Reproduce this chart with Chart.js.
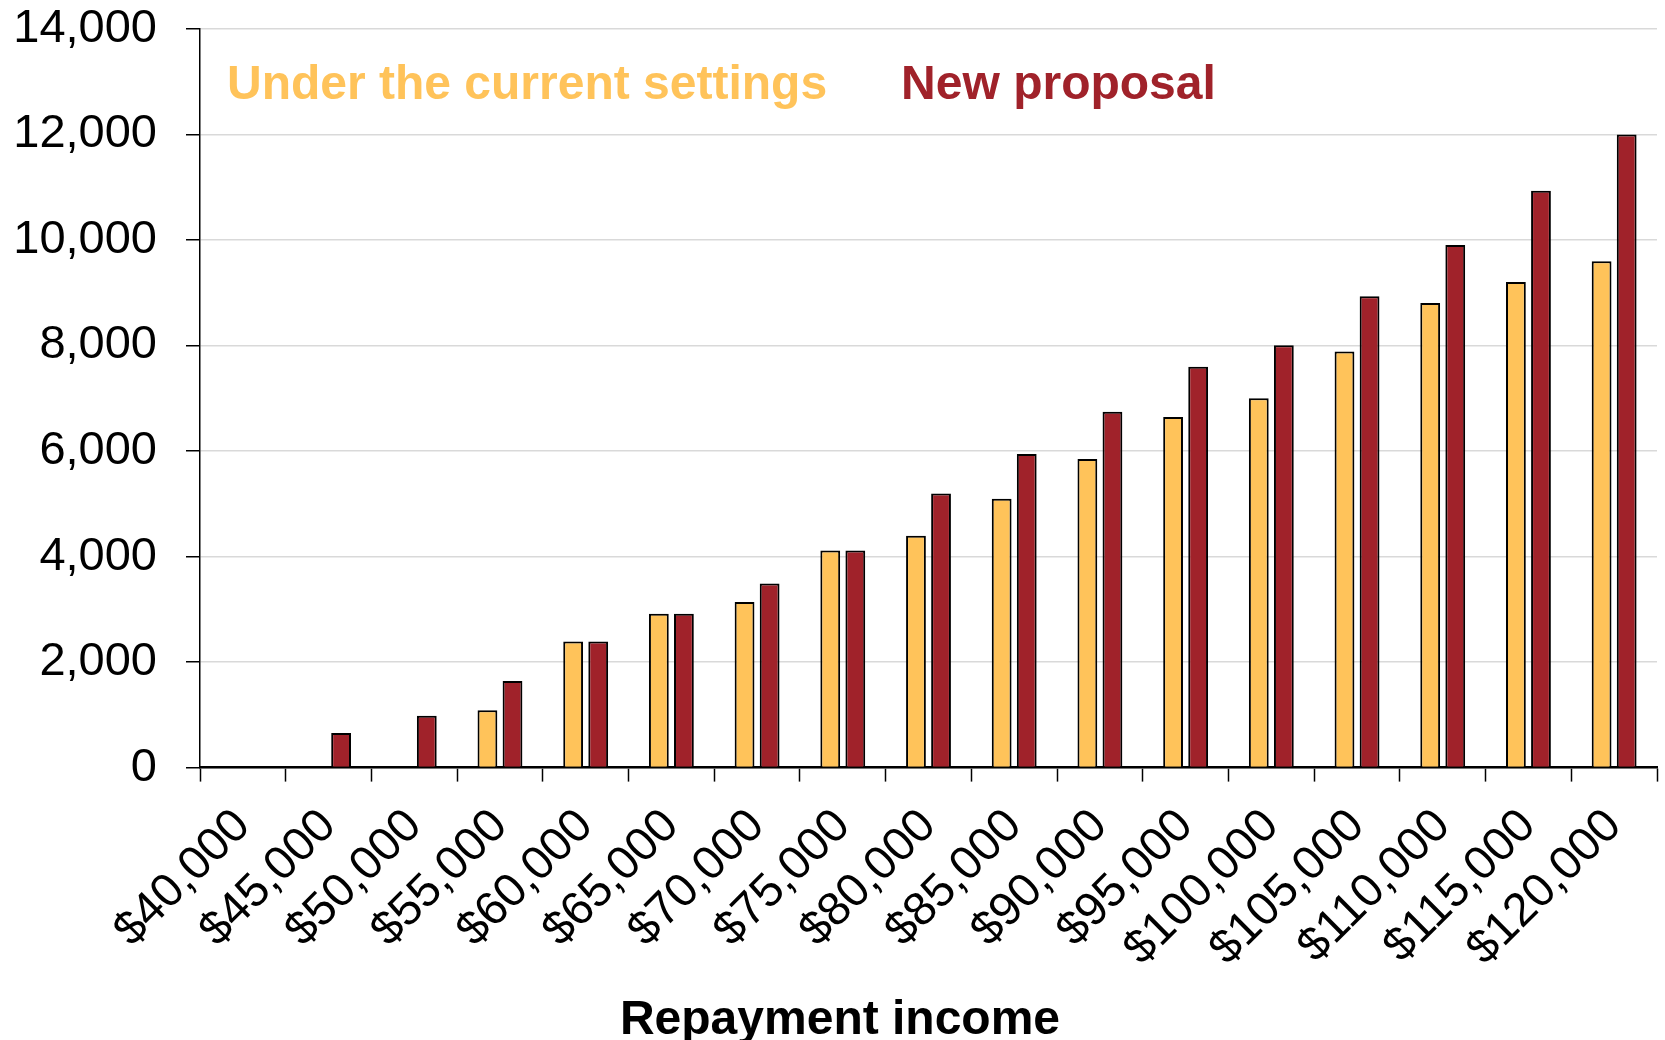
<!DOCTYPE html>
<html>
<head>
<meta charset="utf-8">
<title>Repayment income</title>
<script src="https://cdn.jsdelivr.net/npm/chart.js@4.4.1/dist/chart.umd.min.js"></script>
<style>
  html, body { margin: 0; padding: 0; background: #fff; }
  #wrap { width: 1665px; height: 1040px; }
</style>
</head>
<body>
<div id="wrap"><canvas id="grafico" width="1665" height="1040"></canvas></div>
<script>
// valores
const categorias = ['$40,000', '$45,000', '$50,000', '$55,000', '$60,000', '$65,000', '$70,000', '$75,000', '$80,000',
  '$85,000', '$90,000', '$95,000', '$100,000', '$105,000', '$110,000', '$115,000', '$120,000'];
const actual = [0, 0, 0, 1085, 2390, 2915, 3140, 4115, 4395, 5095, 5850, 6645, 7000, 7885, 8805, 9205, 9600];
const propuesta = [0, 655, 985, 1640, 2390, 2915, 3490, 4115, 5195, 5945, 6745, 7600, 8005, 8935, 9905, 10935, 12000];
const nombres = ['Under the current settings', 'New proposal'];
const colores = ['#FFC35A', '#A0222A'];
const ticksY = [0, 2000, 4000, 6000, 8000, 10000, 12000, 14000];

const FUENTE = '"Liberation Sans", Arial, sans-serif';

// leyenda dibujada dentro del area del grafico, como en el original
const leyendaInterna = {
  id: 'leyendaInterna',
  afterLayout(chart) {
    // el titulo del eje no esta centrado en el lienzo en el original
    const t = chart.titleBlock;
    if (t) { t.left += 6; t.right += 6; }
  },
  afterDraw(chart) {
    const ctx = chart.ctx;
    const area = chart.chartArea;
    ctx.save();
    ctx.font = 'bold 48px ' + FUENTE;
    ctx.textBaseline = 'middle';
    ctx.textAlign = 'left';
    let x = area.left + 27;
    chart.data.datasets.forEach(ds => {
      ctx.fillStyle = ds.backgroundColor;
      ctx.fillText(ds.label, x, 86);
      x += ctx.measureText(ds.label).width + 74;
    });
    ctx.restore();
  }
};

new Chart(document.getElementById('grafico'), {
  type: 'bar',
  data: {
    labels: categorias,
    datasets: [
      { label: nombres[0], data: actual, backgroundColor: colores[0] },
      { label: nombres[1], data: propuesta, backgroundColor: colores[1] }
    ]
  },
  options: {
    responsive: false,
    animation: false,
    layout: { padding: { top: 29, right: 8, bottom: 0, left: 11 } },
    datasets: {
      bar: {
        borderColor: '#000',
        borderWidth: 2,
        borderSkipped: 'start',
        categoryPercentage: 0.585,
        barPercentage: 0.79
      }
    },
    plugins: {
      legend: { display: false },
      tooltip: { enabled: false },
      title: {
        display: true,
        position: 'bottom',
        text: 'Repayment income',
        color: '#000',
        font: { family: FUENTE, size: 48, weight: 'bold', lineHeight: 0.8 },
        padding: { top: 0, bottom: 0 }
      }
    },
    scales: {
      x: {
        offset: true,
        grid: { display: true, offset: true, drawOnChartArea: false, drawTicks: true, tickLength: 14, tickColor: '#000', tickWidth: 1.5 },
        border: { display: true, color: '#000', width: 2.5 },
        ticks: {
          color: '#000',
          font: { family: FUENTE, size: 47 },
          minRotation: 45,
          maxRotation: 45,
          autoSkip: false,
          padding: 17
        },
        afterFit(scale) {
          scale.height = 234;
          scale.paddingLeft = 0;
          scale.paddingRight = 0;
        }
      },
      y: {
        min: 0,
        max: 14000,
        afterBuildTicks(scale) { scale.ticks = ticksY.map(v => ({ value: v })); },
        grid: { color: '#d9d9d9', lineWidth: 1.5, tickLength: 14, tickColor: '#000', tickWidth: 1.5 },
        border: { display: true, color: '#000', width: 1.5 },
        ticks: {
          color: '#000',
          font: { family: FUENTE, size: 47 },
          padding: 29,
          callback: v => v.toLocaleString('en-US')
        },
        afterFit(scale) {
          scale.width = 189;
          scale.paddingTop = 0;
          scale.paddingBottom = 0;
        }
      }
    }
  },
  plugins: [leyendaInterna]
});
</script>
</body>
</html>
